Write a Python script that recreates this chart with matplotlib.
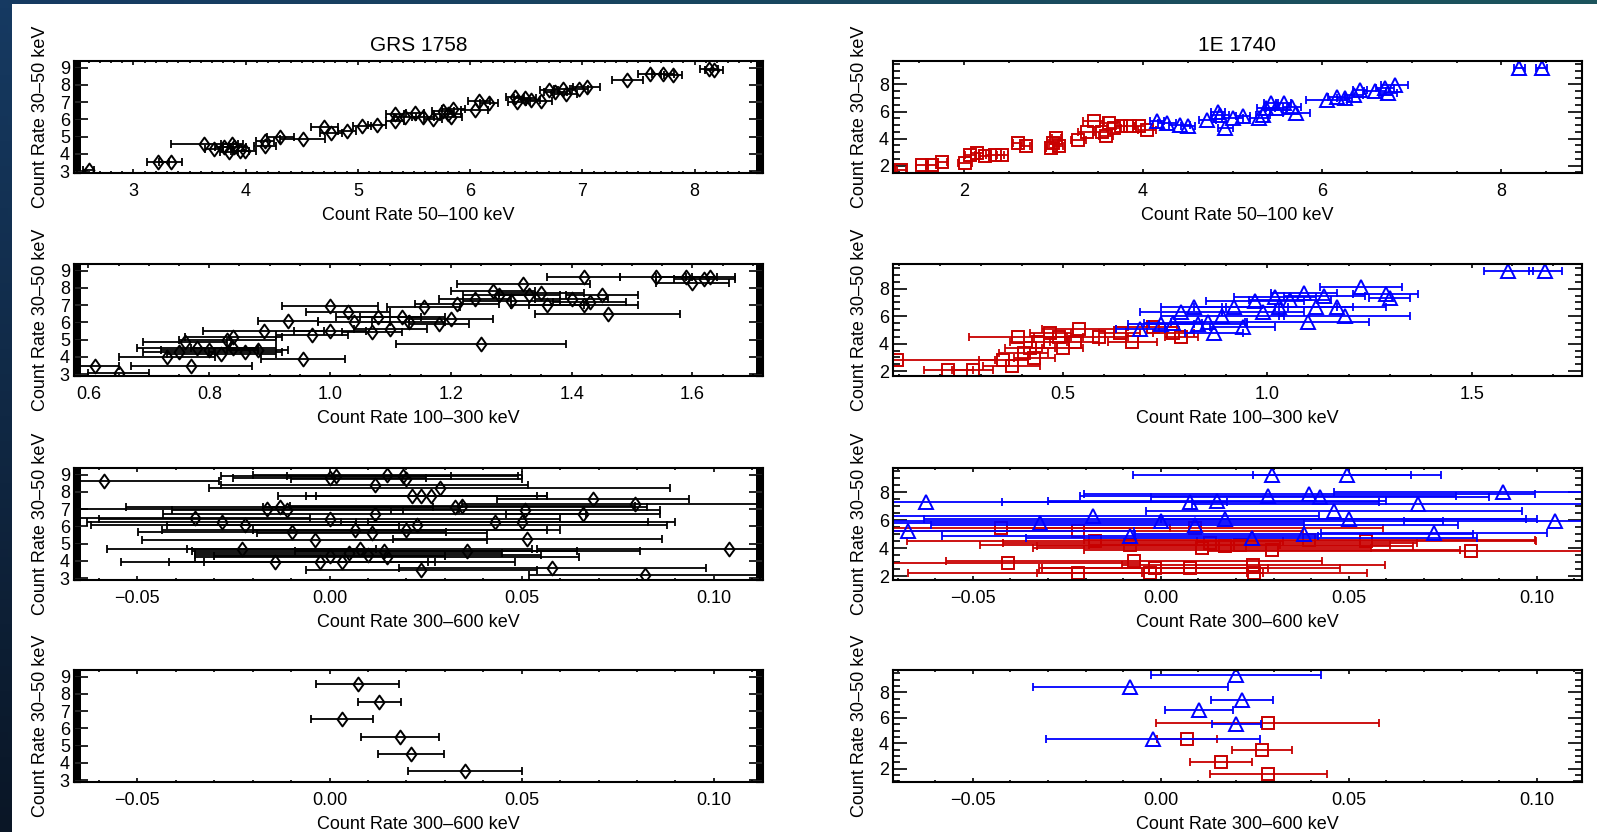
import matplotlib
matplotlib.use('Agg')
import matplotlib.pyplot as plt
import numpy as np
from matplotlib.path import Path
from matplotlib.patches import Rectangle
from matplotlib.ticker import MultipleLocator

plt.rcParams['font.family'] = ['Liberation Sans', 'DejaVu Sans']

######################### Data: GRS 1758 #########################

# 30-50 keV vs 50-100 keV
grs1_x = [2.60, 3.22, 3.33, 3.63, 3.72, 3.81, 3.85, 3.88, 3.90, 3.95, 3.99, 4.17, 4.17, 4.31, 4.51,
          4.70, 4.76, 4.90, 5.04, 5.17, 5.33, 5.33, 5.42, 5.51, 5.58, 5.67, 5.76, 5.80, 5.85, 5.83,
          6.04, 6.08, 6.17, 6.40, 6.42, 6.49, 6.54, 6.63, 6.70, 6.76, 6.83, 6.85, 6.97, 7.04, 7.40,
          7.60, 7.72, 7.81, 8.13, 8.17]
grs1_y = [3.10, 3.56, 3.56, 4.60, 4.28, 4.38, 4.09, 4.57, 4.38, 4.18, 4.20, 4.45, 4.77, 4.96, 4.85,
          5.54, 5.20, 5.35, 5.64, 5.70, 6.30, 5.93, 6.12, 6.40, 6.12, 6.03, 6.51, 6.32, 6.61, 6.15,
          6.55, 7.05, 6.95, 7.29, 7.00, 7.25, 7.10, 7.05, 7.68, 7.58, 7.78, 7.49, 7.78, 7.87, 8.26,
          8.60, 8.65, 8.55, 8.94, 8.85]
grs1_xe = [0.05, 0.10, 0.10, 0.30, 0.08, 0.08, 0.08, 0.10, 0.10, 0.08, 0.10, 0.10, 0.08, 0.12, 0.20,
           0.12, 0.10, 0.08, 0.08, 0.08, 0.08, 0.08, 0.10, 0.08, 0.10, 0.08, 0.10, 0.12, 0.10, 0.10,
           0.12, 0.10, 0.08, 0.08, 0.08, 0.10, 0.08, 0.10, 0.08, 0.10, 0.08, 0.10, 0.08, 0.12, 0.14,
           0.10, 0.10, 0.08, 0.08, 0.08]

# 30-50 keV vs 100-300 keV
grs2_x = [0.61, 0.65, 0.77, 0.73, 0.75, 0.76, 0.78, 0.80, 0.82, 0.84, 0.86, 0.88, 0.83, 0.84, 0.89,
          0.93, 0.955, 0.97, 1.00, 1.00, 1.03, 1.04, 1.08, 1.07, 1.10, 1.12, 1.13, 1.155, 1.18, 1.20,
          1.21, 1.24, 1.25, 1.27, 1.28, 1.30, 1.32, 1.33, 1.35, 1.36, 1.40, 1.42, 1.42, 1.43, 1.45,
          1.46, 1.54, 1.59, 1.60, 1.62, 1.63]
grs2_y = [3.50, 3.05, 3.50, 4.00, 4.30, 4.86, 4.50, 4.40, 4.20, 4.50, 4.30, 4.40, 4.96, 5.15, 5.50,
          6.10, 3.90, 5.25, 6.97, 5.53, 6.60, 6.00, 6.30, 5.44, 5.63, 6.30, 6.00, 6.87, 5.90, 6.20,
          7.06, 7.35, 4.77, 7.80, 7.60, 7.25, 8.20, 7.60, 7.70, 7.00, 7.35, 7.00, 8.60, 7.20, 7.60,
          6.50, 8.60, 8.60, 8.30, 8.50, 8.60]
grs2_xe = [0.04, 0.05, 0.10, 0.08, 0.06, 0.07, 0.10, 0.08, 0.09, 0.07, 0.06, 0.05, 0.08, 0.08, 0.10,
           0.05, 0.07, 0.06, 0.08, 0.06, 0.07, 0.06, 0.07, 0.05, 0.06, 0.07, 0.06, 0.06, 0.05, 0.07,
           0.07, 0.06, 0.14, 0.07, 0.06, 0.08, 0.11, 0.05, 0.07, 0.06, 0.06, 0.09, 0.06, 0.06, 0.06,
           0.12, 0.06, 0.05, 0.06, 0.05, 0.04]

# 30-50 keV vs 300-600 keV
grs3_x = [-0.0587, 0.0017, 0.0150, 0.0190, 0.0117, 0.0287, 0.0215, 0.0239, 0.0265, 0.0685, 0.0796,
          -0.0163, -0.0130, -0.0110, 0.0326, 0.0346, 0.0509, 0.0659, 0.0117, -0.0280, -0.0220,
          -0.0098, -0.0039, 0.0065, 0.0110, 0.0228, 0.0200, 0.0430, 0.0500, 0.0515, -0.0228, 0.0359,
          0.1040, -0.0143, -0.0026, 0.0033, 0.0239, 0.0580, 0.0820, 0.0078, 0.0143, -0.0350, 0.0000,
          0.0100, 0.0050, 0.0150, 0.0000, 0.0200, 0.0000]
grs3_y = [8.60, 8.90, 8.95, 8.90, 8.40, 8.25, 7.75, 7.75, 7.75, 7.60, 7.30,
          7.00, 7.10, 6.97, 7.10, 7.20, 6.97, 6.72, 6.72, 6.25, 6.06,
          5.67, 5.20, 5.80, 5.60, 6.06, 5.80, 6.25, 6.25, 5.30, 4.70, 4.60,
          4.70, 3.96, 3.96, 3.96, 3.48, 3.57, 3.20, 4.72, 4.60, 6.50, 6.45,
          4.35, 4.45, 4.25, 4.30, 8.75, 8.80]
grs3_xe = [0.030, 0.030, 0.035, 0.030, 0.040, 0.060, 0.035, 0.030, 0.030, 0.025, 0.045,
           0.050, 0.040, 0.030, 0.050, 0.045, 0.035, 0.020, 0.055, 0.035, 0.040,
           0.040, 0.045, 0.050, 0.030, 0.065, 0.040, 0.040, 0.040, 0.035, 0.035, 0.045,
           0.050, 0.040, 0.030, 0.045, 0.030, 0.040, 0.030, 0.045, 0.050, 0.030, 0.060,
           0.045, 0.040, 0.050, 0.030, 0.030, 0.025]

# 30-50 keV vs 300-600 keV, rebinned
grs4_x = [0.0073, 0.0130, 0.0033, 0.0183, 0.0212, 0.0352]
grs4_y = [8.56, 7.51, 6.52, 5.51, 4.52, 3.51]
grs4_xe = [0.0107, 0.0056, 0.0080, 0.0102, 0.0087, 0.0148]

######################### Data: 1E 1740 #########################

# 30-50 keV vs 50-100 keV
e1_red_x = [1.30, 1.53, 1.64, 1.76, 2.01, 2.07, 2.15, 2.24, 2.35, 2.43, 2.60, 2.69, 3.00, 3.03, 3.06,
            2.97, 3.28, 3.37, 3.45, 3.54, 3.59, 3.62, 3.68, 3.76, 3.85, 3.96, 4.05]
e1_red_y = [1.70, 2.06, 2.06, 2.30, 2.20, 2.80, 2.90, 2.68, 2.80, 2.80, 3.67, 3.42, 3.67, 4.03, 3.42,
            3.30, 3.90, 4.50, 5.27, 4.50, 4.16, 5.14, 4.77, 4.90, 4.90, 4.90, 4.60]
e1_red_xe = [0.05, 0.06, 0.06, 0.05, 0.08, 0.06, 0.07, 0.06, 0.10, 0.06, 0.05, 0.05, 0.05, 0.05, 0.05,
             0.05, 0.08, 0.10, 0.12, 0.10, 0.08, 0.10, 0.08, 0.06, 0.06, 0.06, 0.10]
e1_blue_x = [4.16, 4.27, 4.41, 4.50, 4.72, 4.84, 4.86, 4.92, 5.00, 5.12, 5.29, 5.34, 5.37, 5.43, 5.49,
             5.57, 5.66, 5.71, 6.05, 6.16, 6.25, 6.36, 6.42, 6.59, 6.70, 6.81, 6.73, 8.20, 8.45]
e1_blue_y = [5.27, 5.14, 5.02, 4.90, 5.39, 6.00, 5.76, 4.77, 5.51, 5.64, 5.51, 5.76, 6.25, 6.62, 6.25,
             6.62, 6.37, 5.88, 6.87, 7.10, 7.00, 7.24, 7.60, 7.48, 7.73, 7.98, 7.36, 9.25, 9.25]
e1_blue_xe = [0.08, 0.10, 0.12, 0.08, 0.10, 0.08, 0.10, 0.08, 0.12, 0.08, 0.10, 0.08, 0.10, 0.08, 0.12,
              0.08, 0.10, 0.15, 0.23, 0.10, 0.08, 0.10, 0.08, 0.12, 0.10, 0.15, 0.10, 0.06, 0.06]

# 30-50 keV vs 100-300 keV
e2_red_x = [0.095, 0.22, 0.28, 0.375, 0.355, 0.39, 0.42, 0.44, 0.47, 0.49, 0.50, 0.53, 0.54, 0.59,
            0.64, 0.67, 0.72, 0.77, 0.79, 0.43, 0.405]
e2_red_y = [2.80, 2.10, 2.10, 2.40, 2.80, 4.50, 3.70, 4.10, 4.80, 4.50, 3.70, 4.10, 5.10, 4.50,
            4.80, 4.10, 5.20, 4.80, 4.50, 2.96, 3.30]
e2_red_xe = [0.24, 0.06, 0.05, 0.07, 0.06, 0.12, 0.06, 0.07, 0.05, 0.06, 0.05, 0.06, 0.09, 0.07,
             0.05, 0.06, 0.06, 0.05, 0.04, 0.05, 0.06]
e2_blue_x = [0.69, 0.74, 0.77, 0.79, 0.82, 0.83, 0.855, 0.87, 0.89, 0.92, 0.94, 0.97, 0.99, 1.02,
             1.03, 1.055, 1.09, 1.10, 1.12, 1.14, 1.17, 1.19, 1.23, 1.29, 1.30, 1.59, 1.68]
e2_blue_y = [5.10, 5.40, 5.50, 6.30, 6.70, 5.40, 5.60, 4.80, 6.00, 6.70, 5.20, 7.10, 6.30, 7.40,
             6.70, 7.20, 7.70, 5.60, 6.70, 7.50, 6.70, 6.00, 8.10, 7.60, 7.30, 9.30, 9.30]
e2_blue_xe = [0.06, 0.08, 0.07, 0.10, 0.08, 0.12, 0.09, 0.07, 0.15, 0.10, 0.08, 0.12, 0.10, 0.10,
              0.14, 0.10, 0.08, 0.15, 0.09, 0.10, 0.12, 0.16, 0.10, 0.08, 0.05, 0.06, 0.04]

# 30-50 keV vs 300-600 keV
e3_red_x = [-0.0406, -0.0221, -0.0071, -0.0016, 0.0077, -0.0029, 0.0246, 0.0249, 0.0825, 0.0547,
            0.0090, -0.0221, -0.0426, 0.0130, 0.0170, 0.0210, 0.0110, 0.0295, 0.0395, -0.0082, -0.0175]
e3_red_y = [2.95, 2.23, 3.07, 2.59, 2.59, 2.23, 2.83, 2.23, 3.79, 4.51,
            5.47, 5.23, 5.47, 4.39, 4.15, 4.27, 4.03, 3.91, 4.63, 4.27, 4.51]
e3_red_xe = [0.035, 0.045, 0.050, 0.030, 0.040, 0.030, 0.035, 0.030, 0.070, 0.045,
             0.050, 0.060, 0.045, 0.055, 0.050, 0.040, 0.045, 0.050, 0.060, 0.040, 0.050]
e3_blue_x = [-0.0671, -0.0625, 0.0295, 0.0494, 0.0910, 0.1047, 0.0726, 0.0683, 0.0079, 0.0150,
             0.0286, 0.0395, 0.0424, 0.0460, -0.0082, 0.0242, 0.0381, -0.0320, -0.0180, 0.0000,
             0.0170, 0.0500, 0.0090]
e3_blue_y = [5.23, 7.28, 9.20, 9.20, 8.00, 5.95, 5.10, 7.16, 7.28, 7.40,
             7.76, 7.88, 7.64, 6.68, 4.87, 4.75, 5.00, 5.84, 6.32, 5.95,
             6.07, 6.07, 5.70]
e3_blue_xe = [0.060, 0.080, 0.037, 0.025, 0.045, 0.040, 0.030, 0.060, 0.050, 0.045,
              0.050, 0.060, 0.045, 0.050, 0.050, 0.060, 0.045, 0.070, 0.060, 0.075,
              0.080, 0.050, 0.070]

# 30-50 keV vs 300-600 keV, rebinned
e4_red_x = [0.0284, 0.0070, 0.0270, 0.0160, 0.0286]
e4_red_y = [5.62, 4.37, 3.46, 2.55, 1.59]
e4_red_xe = [0.0296, 0.0080, 0.0080, 0.0083, 0.0155]
e4_blue_x = [0.0199, -0.0081, 0.0216, 0.0101, 0.0201, -0.0020]
e4_blue_y = [9.38, 8.47, 7.43, 6.60, 5.49, 4.37]
e4_blue_xe = [0.0226, 0.0260, 0.0083, 0.0091, 0.0066, 0.0285]

######################### Figure #########################

W, H = 1597, 832
fig = plt.figure(figsize=(W / 100, H / 100), dpi=100)

# dark slide background with white panel on top
bg = fig.add_axes([0, 0, 1, 1], zorder=-10)
gx = np.linspace(0, 1, 200)[None, :, None]
gy = np.linspace(0, 1, 100)[:, None, None]
tl = np.array([22, 58, 98]) / 255.0
tr = np.array([28, 84, 92]) / 255.0
bl = np.array([10, 22, 38]) / 255.0
grad = tl * (1 - gx) * (1 - gy) + tr * gx * (1 - gy) + bl * (1 - gx) * gy + bl * gx * gy
bg.imshow(grad, extent=[0, 1, 0, 1], aspect='auto', origin='upper')
bg.add_patch(Rectangle((12 / W, 0), 1, 1 - 4 / H, facecolor='white', edgecolor='none'))
bg.set_xlim(0, 1)
bg.set_ylim(0, 1)
bg.axis('off')

RED = '#c80000'
BLUE = '#0000ff'
diamond = Path([(0, 1), (0.72, 0), (0, -1), (-0.72, 0), (0, 1)],
               [Path.MOVETO, Path.LINETO, Path.LINETO, Path.LINETO, Path.CLOSEPOLY])


def draw(ax, x, y, xe, color, marker, ms):
    ax.errorbar(x, y, xerr=xe, fmt='none', ecolor=color, elinewidth=1.3,
                capsize=2.8, capthick=1.3)
    ax.plot(x, y, linestyle='none', marker=marker, ms=ms, mfc='none',
            mec=color, mew=1.4)


def style(ax, xlim, ylim, xmaj, xmin, ymaj, ymin, xlabel):
    ax.set_xlim(*xlim)
    ax.set_ylim(*ylim)
    ax.xaxis.set_major_locator(MultipleLocator(xmaj))
    ax.xaxis.set_minor_locator(MultipleLocator(xmin))
    ax.yaxis.set_major_locator(MultipleLocator(ymaj))
    ax.yaxis.set_minor_locator(MultipleLocator(ymin))
    ax.tick_params(which='both', direction='in', top=True, right=True, labelsize=13, width=1.2)
    ax.tick_params(axis='x', which='major', length=3, pad=7)
    ax.tick_params(axis='x', which='minor', length=1.6)
    ax.tick_params(axis='y', which='major', length=10, pad=3)
    ax.tick_params(axis='y', which='minor', length=5)
    for sp in ax.spines.values():
        sp.set_linewidth(1.5)
    ax.set_xlabel(xlabel, fontsize=13, labelpad=5)
    ax.set_ylabel('Count Rate 30–50 keV', fontsize=13, labelpad=8)


rows_bottom = [659 / H, 456 / H, 252 / H, 50 / H]
ax_h = 112 / H
ax_w = 689 / W
left_x = 74 / W
right_x = 893 / W

xlabels = ['Count Rate 50–100 keV', 'Count Rate 100–300 keV',
           'Count Rate 300–600 keV', 'Count Rate 300–600 keV']

# left column: GRS 1758
grs_sets = [(grs1_x, grs1_y, grs1_xe), (grs2_x, grs2_y, grs2_xe),
            (grs3_x, grs3_y, grs3_xe), (grs4_x, grs4_y, grs4_xe)]
grs_xlims = [(2.47, 8.61), (0.576, 1.717), (-0.0665, 0.1128), (-0.0665, 0.1128)]
grs_xticks = [(1, 0.1), (0.2, 0.05), (0.05, 0.01), (0.05, 0.01)]
for i in range(4):
    ax = fig.add_axes([left_x, rows_bottom[i], ax_w, ax_h])
    x, y, xe = grs_sets[i]
    draw(ax, x, y, xe, 'black', diamond, 10)
    style(ax, grs_xlims[i], (2.9, 9.38), grs_xticks[i][0], grs_xticks[i][1], 1, 0.1, xlabels[i])
    ax.tick_params(axis='y', which='minor', width=1.6)
    if i == 0:
        ax.set_title('GRS 1758', fontsize=15, pad=7)

# right column: 1E 1740
e_red = [(e1_red_x, e1_red_y, e1_red_xe), (e2_red_x, e2_red_y, e2_red_xe),
         (e3_red_x, e3_red_y, e3_red_xe), (e4_red_x, e4_red_y, e4_red_xe)]
e_blue = [(e1_blue_x, e1_blue_y, e1_blue_xe), (e2_blue_x, e2_blue_y, e2_blue_xe),
          (e3_blue_x, e3_blue_y, e3_blue_xe), (e4_blue_x, e4_blue_y, e4_blue_xe)]
e_xlims = [(1.21, 8.9), (0.085, 1.77), (-0.0712, 0.112), (-0.0712, 0.112)]
e_ylims = [(1.46, 9.73), (1.65, 9.8), (1.75, 9.73), (0.95, 9.77)]
e_xticks = [(2, 0.5), (0.5, 0.1), (0.05, 0.01), (0.05, 0.01)]
for i in range(4):
    ax = fig.add_axes([right_x, rows_bottom[i], ax_w, ax_h])
    x, y, xe = e_red[i]
    draw(ax, x, y, xe, RED, 's', 9)
    x, y, xe = e_blue[i]
    draw(ax, x, y, xe, BLUE, '^', 10)
    style(ax, e_xlims[i], e_ylims[i], e_xticks[i][0], e_xticks[i][1], 2, 0.5, xlabels[i])
    if i == 0:
        ax.set_title('1E 1740', fontsize=15, pad=7)

fig.savefig('out.png', dpi=100)
